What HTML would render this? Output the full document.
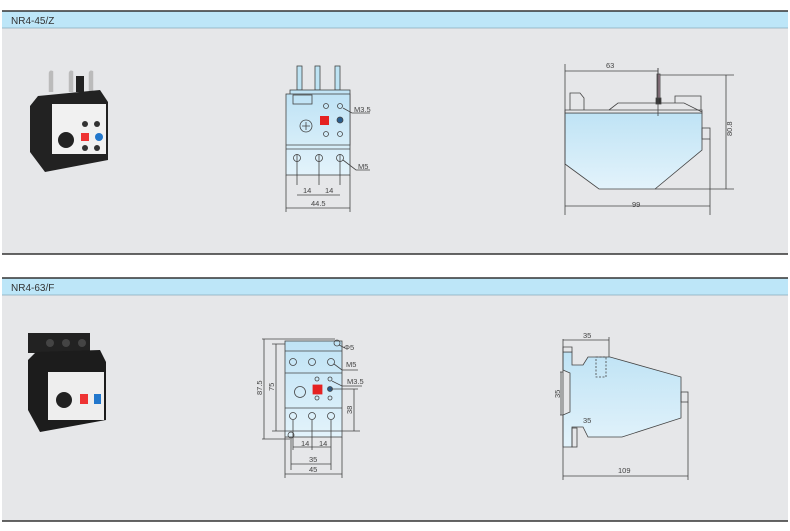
<!DOCTYPE html>
<html><head><meta charset="utf-8"><style>
body{margin:0;background:#fff;font-family:"Liberation Sans",sans-serif}
svg{display:block}
text{font-family:"Liberation Sans",sans-serif}
</style></head><body>
<svg width="790" height="531" viewBox="0 0 790 531" xmlns="http://www.w3.org/2000/svg">
<defs>
<linearGradient id="bl" x1="0" y1="0" x2="0" y2="1"><stop offset="0" stop-color="#bfe3f5"/><stop offset="1" stop-color="#e3f3fb"/></linearGradient>
</defs>
<rect width="790" height="531" fill="#fff"/>
<rect x="2" y="11" width="786" height="243" fill="#e6e7e9"/>
<rect x="2" y="11" width="786" height="17" fill="#bde6f8"/>
<line x1="2" y1="11" x2="788" y2="11" stroke="#333" stroke-width="1.5"/>
<line x1="2" y1="28" x2="788" y2="28" stroke="#8ab" stroke-width="0.8"/>
<line x1="2" y1="254" x2="788" y2="254" stroke="#333" stroke-width="1.5"/>
<text x="11" y="24" font-size="10" fill="#333">NR4-45/Z</text>
<rect x="2" y="278" width="786" height="243" fill="#e6e7e9"/>
<rect x="2" y="278" width="786" height="17" fill="#bde6f8"/>
<line x1="2" y1="278" x2="788" y2="278" stroke="#333" stroke-width="1.5"/>
<line x1="2" y1="295" x2="788" y2="295" stroke="#8ab" stroke-width="0.8"/>
<line x1="2" y1="521" x2="788" y2="521" stroke="#333" stroke-width="1.5"/>
<text x="11" y="291" font-size="10" fill="#333">NR4-63/F</text>

<!-- photo 1 -->
<g>
<path d="M50 92 V74 q0 -3 2 -2 V92 M70 92 V74 q0 -3 2 -2 V92 M90 92 V74 q0 -3 2 -2 V92" stroke="#bbb" stroke-width="2.5" fill="none"/>
<rect x="76" y="76" width="8" height="16" fill="#222"/>
<path d="M38 96 L100 90 L108 102 L108 160 L45 172 L30 152 L30 106 Z" fill="#222"/>
<rect x="52" y="104" width="54" height="50" fill="#f1f1f1"/>
<circle cx="66" cy="140" r="8" fill="#222"/>
<rect x="81" y="133" width="8" height="8" fill="#e33"/>
<circle cx="99" cy="137" r="4" fill="#27c"/>
<circle cx="85" cy="124" r="3" fill="#333"/><circle cx="97" cy="124" r="3" fill="#333"/>
<circle cx="85" cy="148" r="3" fill="#333"/><circle cx="97" cy="148" r="3" fill="#333"/>
</g>
<!-- photo 2 -->
<g>
<rect x="28" y="333" width="62" height="20" fill="#222"/>
<path d="M36 352 L100 350 L106 362 L106 420 L40 432 L28 410 L28 360 Z" fill="#1c1c1c"/>
<rect x="48" y="372" width="56" height="48" fill="#eee"/>
<circle cx="64" cy="400" r="8" fill="#222"/>
<rect x="80" y="394" width="8" height="10" fill="#e33"/>
<rect x="94" y="394" width="7" height="10" fill="#27c"/>
<circle cx="50" cy="343" r="4" fill="#444"/><circle cx="66" cy="343" r="4" fill="#444"/><circle cx="82" cy="343" r="4" fill="#444"/>
</g>

<g stroke="#444" stroke-width="0.8" fill="none" font-size="7">
<rect x="297" y="66" width="5" height="24" fill="#bde3f3"/>
<rect x="315" y="66" width="5" height="24" fill="#bde3f3"/>
<rect x="335" y="66" width="5" height="24" fill="#bde3f3"/>
<rect x="290" y="90" width="60" height="55" fill="url(#bl)"/>
<rect x="286" y="94" width="64" height="81" fill="url(#bl)"/>
<rect x="293" y="95" width="19" height="9"/>
<line x1="286" y1="145" x2="350" y2="145"/>
<line x1="286" y1="149" x2="350" y2="149"/>
<circle cx="306" cy="126" r="6"/><path d="M302 126h8M306 122v8"/>
<rect x="320" y="116" width="9" height="9" fill="#e52222" stroke="none"/>
<circle cx="340" cy="120" r="3" fill="#2a5d8c"/>
<circle cx="326" cy="106" r="2.5"/><circle cx="340" cy="106" r="2.5"/>
<circle cx="326" cy="134" r="2.5"/><circle cx="340" cy="134" r="2.5"/>
<circle cx="297" cy="158" r="3.5"/><circle cx="319" cy="158" r="3.5"/><circle cx="340" cy="158" r="3.5"/>
<path d="M297 154v31M319 154v31M340 154v31M286 175v37M350 175v37"/>
<path d="M297 195h22M319 195h21M286 208h64"/>
<path d="M343 108 L352 113 H370 M343 160 L356 170 H370"/>
</g>
<g font-size="7.5" fill="#444">
<text x="354" y="112">M3.5</text><text x="358" y="169">M5</text>
<text x="303" y="193">14</text><text x="325" y="193">14</text><text x="311" y="206">44.5</text>
</g>

<g stroke="#444" stroke-width="0.8" fill="none">
<path d="M565 113 H702 V150 L655 189 H599 L565 164 Z" fill="url(#bl)"/>
<path d="M565 110 H702 V113 H565 Z" fill="#e6e7e9"/>
<path d="M570 110 V93 H580 L584 98 V110"/>
<path d="M609 110 L618 103 H684 L702 112 M675 103 V96 H701 V110"/>
<rect x="657" y="74" width="3" height="26" fill="#a89"/>
<rect x="656" y="98" width="5" height="6" fill="#333"/>
<line x1="658" y1="68" x2="658" y2="116"/>
<rect x="702" y="128" width="8" height="11"/>
<path d="M565 64 V215 M710 139 V215 M658 104 V68"/>
<path d="M565 71 H658 M565 206 H710 M660 75 H734 M655 189 H734 M726 75 V189"/>
</g>
<g font-size="7.5" fill="#444"><text x="606" y="68">63</text><text x="632" y="207">99</text>
<text x="0" y="0" transform="translate(732 136) rotate(-90)">80.8</text></g>

<g stroke="#444" stroke-width="0.8" fill="none">
<rect x="285" y="341" width="57" height="96" fill="url(#bl)"/>
<line x1="285" y1="351" x2="342" y2="351"/>
<line x1="285" y1="373" x2="342" y2="373"/>
<line x1="285" y1="408" x2="342" y2="408"/>
<circle cx="293" cy="362" r="3.5"/><circle cx="312" cy="362" r="3.5"/><circle cx="331" cy="362" r="3.5"/>
<circle cx="293" cy="416" r="3.5"/><circle cx="312" cy="416" r="3.5"/><circle cx="331" cy="416" r="3.5"/>
<circle cx="300" cy="392" r="5.5"/>
<rect x="313" y="385" width="9" height="9" fill="#e52222" stroke="#e52222"/>
<circle cx="330" cy="389" r="2.5" fill="#2a5d8c"/>
<circle cx="317" cy="379" r="2"/><circle cx="330" cy="379" r="2"/>
<circle cx="317" cy="398" r="2"/><circle cx="330" cy="398" r="2"/>
<circle cx="337" cy="343" r="3"/><circle cx="291" cy="435" r="3"/>
<path d="M262 339 H335 M262 439 H290 M272 344 H285 M272 431 H342 M264 339 V439 M276 344 V431"/>
<path d="M330 389 H358 M354 389 V431 M342 431 H360"/>
<path d="M293 420 V450 M312 420 V450 M331 420 V450 M291 438 V470 M331 438 V470 M285 437 V478 M342 437 V478"/>
<path d="M293 447 H331 M291 464 H331 M285 474 H342"/>
<path d="M339 345 L345 348 M334 364 L342 370 H358 M332 381 L342 386 H362"/>
</g>
<g font-size="7.5" fill="#444">
<text x="344" y="350">Φ5</text><text x="346" y="367">M5</text><text x="347" y="384">M3.5</text>
<text x="0" y="0" transform="translate(262 395) rotate(-90)">87.5</text>
<text x="0" y="0" transform="translate(274 391) rotate(-90)">75</text>
<text x="0" y="0" transform="translate(352 414) rotate(-90)">38</text>
<text x="301" y="446">14</text><text x="319" y="446">14</text>
<text x="309" y="462">35</text><text x="309" y="472">45</text>
</g>

<g stroke="#444" stroke-width="0.8" fill="none">
<path d="M563 352 H572 V365 H583 L588 357 H610 L681 377 V418 L622 437 H588 L583 427 H572 L572 447 H563 V415 L570 412 V373 L563 370 Z" fill="url(#bl)"/>
<path d="M563 347 H572 V352 H563 Z" fill="#e6e7e9"/>
<rect x="596" y="357" width="10" height="20" stroke-dasharray="2 1.5"/>
<rect x="572" y="428" width="5" height="19"/>
<rect x="681" y="392" width="7" height="10"/>
<path d="M563 339 V480 M609 337 V357 M688 402 V480 M563 340 H609 M563 476 H688 M563 372 H560 M563 415 H560 M561 372 V415"/>
</g>
<g font-size="7.5" fill="#444"><text x="583" y="338">35</text><text x="583" y="423">35</text><text x="618" y="473">109</text>
<text x="0" y="0" transform="translate(560 398) rotate(-90)">35</text></g>
</svg>
</body></html>
